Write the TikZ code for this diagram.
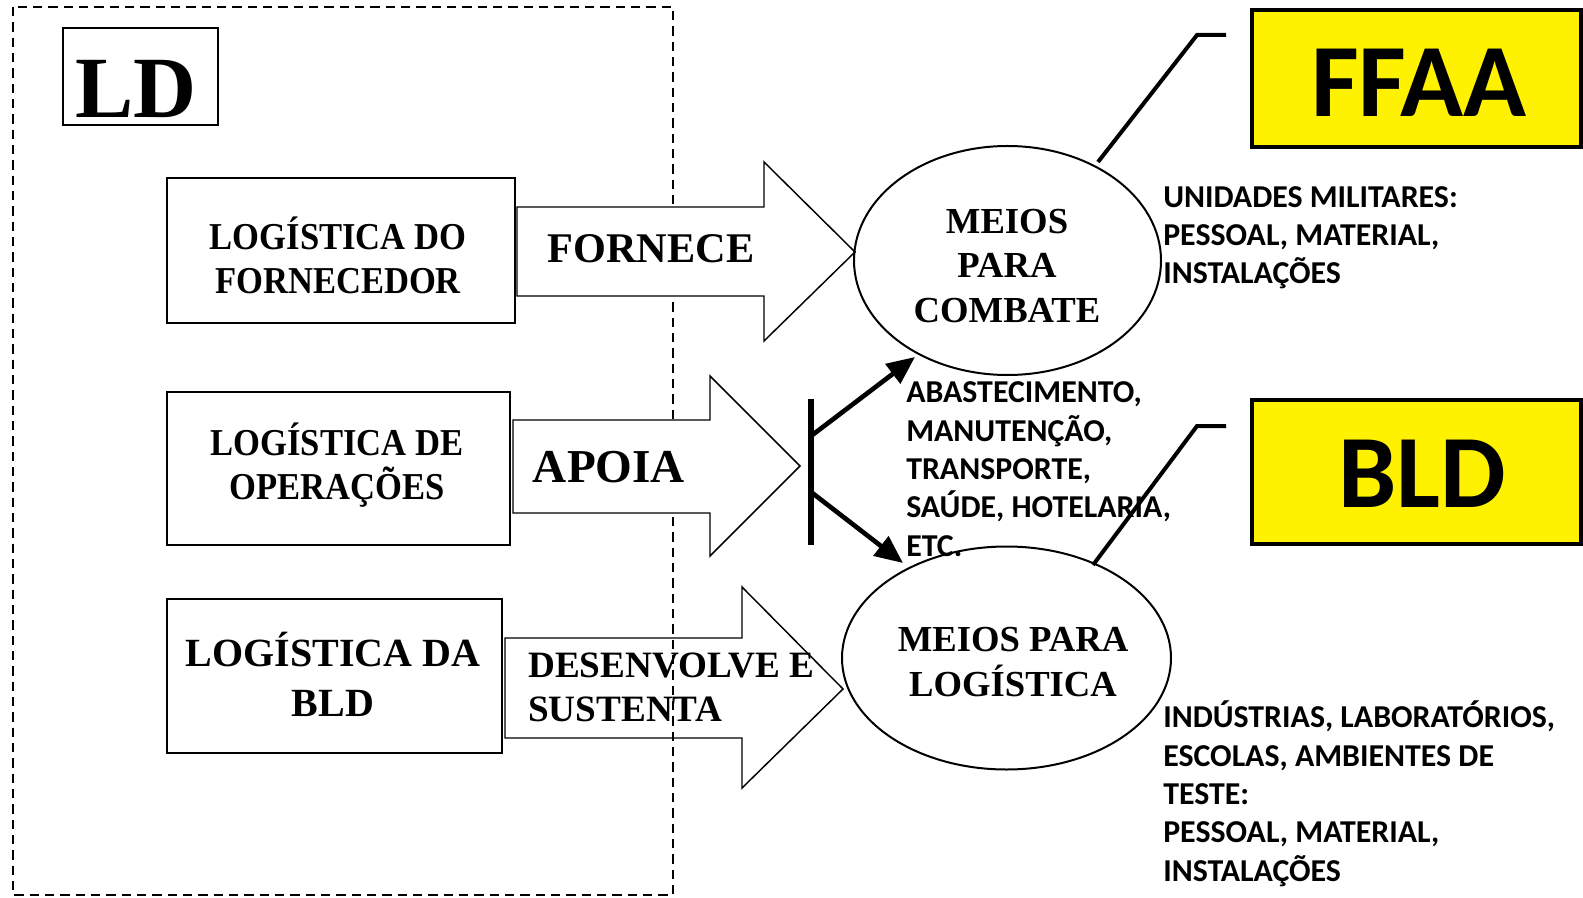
\documentclass[tikz,border=0pt]{standalone}
\usepackage{fontspec}
\setmainfont{Liberation Serif}
\newfontfamily\calib{Carlito}
\newfontfamily\narrowserif[FakeStretch=0.91]{Liberation Serif}
\usetikzlibrary{shapes.geometric,arrows.meta}

\begin{document}
\begin{tikzpicture}[x=0.75pt,y=-0.75pt,
  box/.style={draw, line width=1pt, inner sep=0pt},
  boxtext/.style={inner sep=0pt, align=center,
    font=\narrowserif\bfseries\fontsize{28.5pt}{33.3pt}\selectfont},
  meio/.style={draw, ellipse, line width=1.5pt, inner sep=0pt},
  meiotext/.style={inner sep=0pt, align=center,
    font=\bfseries\fontsize{27.5pt}{33.3pt}\selectfont},
  blockarrow/.style={draw, line width=1.1pt, line join=miter},
  tag/.style={draw, line width=3.4pt, fill=yellow, inner sep=0pt,
    font=\calib\bfseries\fontsize{78pt}{80pt}\selectfont},
  note/.style={inner sep=0pt, align=left, anchor=base west,
    font=\calib\bfseries\fontsize{23.9pt}{28.7pt}\selectfont},
  callout/.style={line width=3pt},
  branch/.style={line width=3.5pt, -{Triangle[length=21pt,width=18pt]}}
]
\useasboundingbox (0,0) rectangle (1583,898);

% dashed frame of LD
\draw[line width=1.1pt, dash pattern=on 7pt off 4.5pt] (13,7) rectangle (673,895);

% LD label
\node[draw, line width=1pt, minimum width=116.25pt, minimum height=72.75pt] (ldbox) at (140.5,76.5) {};
\node[inner sep=0pt, font=\bfseries\fontsize{65.5pt}{70pt}\selectfont] (ld) at (136,89) {LD};

% logistics boxes
\node[box, minimum width=261pt, minimum height=108.75pt] (forn) at (341,250.5) {};
\node[box, minimum width=257.25pt, minimum height=114.75pt] (oper) at (338.5,468.5) {};
\node[box, minimum width=251.25pt, minimum height=115.5pt] (bldl) at (334.5,676) {};
\node[boxtext] (forntext) at (338,255.5) {LOGÍSTICA DO\\FORNECEDOR};
\node[boxtext] (opertext) at (337,465) {LOGÍSTICA DE\\OPERAÇÕES};
\node[boxtext, font=\bfseries\fontsize{30pt}{37.5pt}\selectfont] (bldltext) at (333,674)
  {LOGÍSTICA DA\\BLD};

% block arrows
\draw[blockarrow, fill=white] (517,207) -- (764,207) -- (764,162) -- (855,252)
  -- (764,341) -- (764,296) -- (517,296) -- cycle;
\draw[blockarrow, fill=white] (513,420) -- (710,420) -- (710,376) -- (800,466)
  -- (710,556) -- (710,513) -- (513,513) -- cycle;
\draw[blockarrow] (505,638) -- (742,638) -- (742,587) -- (843,689)
  -- (742,788) -- (742,738) -- (505,738) -- cycle;

\node[inner sep=0pt, font=\bfseries\fontsize{31.7pt}{36pt}\selectfont] (fornece) at (651,249) {FORNECE};
\node[inner sep=0pt, font=\bfseries\fontsize{35.4pt}{40pt}\selectfont] (apoia) at (609,467) {APOIA};
\node[inner sep=0pt, align=left, anchor=west,
  font=\bfseries\fontsize{27.9pt}{33.5pt}\selectfont] (desenv) at (528,687.5)
  {DESENVOLVE E\\SUSTENTA};

% means
\node[meio, minimum width=230.25pt, minimum height=171.75pt] (combate) at (1007.5,260.5) {};
\node[meio, minimum width=246.75pt, minimum height=167.25pt] (meiolog) at (1006.5,658) {};
\node[meiotext] (combtext) at (1007,266) {MEIOS\\PARA\\COMBATE};
\node[meiotext] (logtext) at (1013,662) {MEIOS PARA\\LOGÍSTICA};

% support bar with branches
\coordinate (bartop) at (811,399);
\coordinate (barbot) at (811,545);
\coordinate (barup) at (811,436);
\coordinate (bardown) at (811,492);
\coordinate (tocomb) at (915,357);
\coordinate (tolog) at (903,563);
\draw[line width=4.5pt] (bartop) -- (barbot);
\draw[branch] (barup) -- (tocomb);
\draw[branch] (bardown) -- (tolog);

% yellow tags
\node[tag, minimum width=246.75pt, minimum height=102.75pt] (ffaa) at (1416.5,78.5) {};
\node[tag, minimum width=246.75pt, minimum height=108pt] (bld) at (1416.5,472) {};
\node[inner sep=0pt, font=\calib\bfseries\fontsize{78pt}{80pt}\selectfont] (ffaatext) at (1419,83) {FFAA};
\node[inner sep=0pt, font=\calib\bfseries\fontsize{78pt}{80pt}\selectfont] (bldtext) at (1422,474) {BLD};

% callout lines
\coordinate (c1a) at (1098,162);
\coordinate (c1b) at (1197,35);
\coordinate (c1c) at (1226,35);
\draw[callout] (c1a) -- (c1b) -- (c1c);
\coordinate (c2a) at (1093,565);
\coordinate (c2b) at (1197,426);
\coordinate (c2c) at (1226,426);
\draw[callout] (c2a) -- (c2b) -- (c2c);

% notes (anchored on the baseline of their last line)
\node[note] (unid) at (1163,283.6) {UNIDADES MILITARES:\\PESSOAL, MATERIAL,\\INSTALAÇÕES};
\node[note] (abast) at (906,556) {ABASTECIMENTO,\\MANUTENÇÃO,\\TRANSPORTE,\\SAÚDE, HOTELARIA,\\ETC.};
\node[note] (indus) at (1163,881) {INDÚSTRIAS, LABORATÓRIOS,\\ESCOLAS, AMBIENTES DE\\TESTE:\\PESSOAL, MATERIAL,\\INSTALAÇÕES};
\end{tikzpicture}
\end{document}
